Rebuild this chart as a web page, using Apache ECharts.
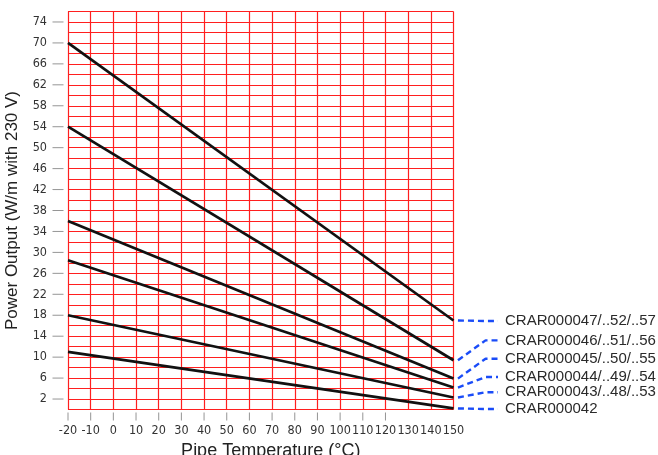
<!DOCTYPE html>
<html>
<head>
<meta charset="utf-8">
<script src="https://cdn.jsdelivr.net/npm/echarts@6/dist/echarts.min.js"></script>
<style>
  html, body { margin: 0; padding: 0; background: #fff; }
  #chart { width: 658px; height: 455px; }
</style>
</head>
<body>
<div id="chart"></div>
<script>
// pipe temperature range (°C) where each curve is read
const temps = [-20, 150];
// power output (W/m) at -20 °C and at 150 °C, top curve first
const powerAtStart = [70, 54, 36, 28.5, 18, 11];
const powerAtEnd = [17, 9.4, 5.9, 4.2, 2.3, 0.2];
const productNames = [
  "CRAR000047/..52/..57",
  "CRAR000046/..51/..56",
  "CRAR000045/..50/..55",
  "CRAR000044/..49/..54",
  "CRAR000043/..48/..53",
  "CRAR000042",
];
// level (W/m) the product label sits at on the right
const labelLevels = [16.9, 13.2, 9.7, 6.2, 3.3, 0.1];
// tick marks: y labelled every 4 from 2, x ticks only up to 120
const yTickValues = [2, 6, 10, 14, 18, 22, 26, 30, 34, 38, 42, 46, 50, 54, 58, 62, 66, 70, 74];
const xTickValues = [-20, -10, 0, 10, 20, 30, 40, 50, 60, 70, 80, 90, 100, 110, 120];

const narrow = "'Liberation Sans Narrow', 'Arial Narrow', 'DejaVu Sans Condensed', sans-serif";
const arial = "'Liberation Sans', Arial, sans-serif";

// plot box in px
const L = 68, R = 453.5, T = 11.5, B = 409.5;
const W = 658, H = 455;

var myChart = echarts.init(document.getElementById("chart"));

const curves = powerAtStart.map((v, i) => ({
  type: "line",
  data: [
    [temps[0], v],
    [temps[1], powerAtEnd[i]],
  ],
  symbol: "none",
  silent: true,
  lineStyle: { color: "#111", width: 2.7 },
  z: 5,
}));

// dashed blue pointers from curve end to product name (own small grid right of the plot)
const pointers = powerAtEnd.map((v, i) => ({
  type: "line",
  xAxisIndex: 1,
  yAxisIndex: 1,
  data: [
    [0.1, v],
    [0.72, labelLevels[i]],
    [1, labelLevels[i]],
  ],
  symbol: "none",
  silent: true,
  clip: false,
  lineStyle: { color: "#1a4cf8", width: 2.4, type: [6, 4] },
  endLabel: {
    show: true,
    formatter: productNames[i],
    distance: 7,
    fontFamily: arial,
    fontSize: 15,
    color: "#2a2a2a",
  },
}));

// tick marks drawn as thin rects, a few px away from the plot edge
const tickColor = "#7a7a7a";
const xTicks = {
  type: "scatter",
  data: xTickValues.map((x) => [x, 0]),
  symbol: "rect",
  symbolSize: [1, 8],
  symbolOffset: [0, 7],
  itemStyle: { color: tickColor },
  silent: true,
  clip: false,
};
const yTicks = {
  type: "scatter",
  data: yTickValues.map((y) => [-20, y]),
  symbol: "rect",
  symbolSize: [11, 1],
  symbolOffset: [-10, 0],
  itemStyle: { color: tickColor },
  silent: true,
  clip: false,
};

const hidden = {
  axisLine: { show: false },
  axisTick: { show: false },
  axisLabel: { show: false },
  splitLine: { show: false },
};

myChart.setOption({
  animation: false,
  backgroundColor: "#fff",
  grid: [
    { left: L, right: W - R, top: T, bottom: H - B, outerBoundsMode: "none" },
    // pointer area
    { left: R, right: W - 498, top: T, bottom: H - B, outerBoundsMode: "none" },
  ],
  xAxis: [
    {
      type: "value",
      min: -20,
      max: 150,
      interval: 10,
      name: "Pipe Temperature (°C)",
      nameLocation: "middle",
      nameGap: 27,
      nameTextStyle: {
        fontFamily: arial,
        fontSize: 18,
        color: "#222",
        verticalAlign: "top",
        padding: [0, 0, 0, 20],
      },
      axisLine: { show: false },
      axisTick: { show: false },
      axisLabel: { margin: 15, fontFamily: narrow, fontSize: 12.5, color: "#333" },
      splitLine: { show: true, lineStyle: { color: "#ff1f1f", width: 1.2 } },
    },
    Object.assign({ gridIndex: 1, type: "value", min: 0, max: 1 }, hidden),
  ],
  yAxis: [
    {
      type: "value",
      min: 0,
      max: 76,
      interval: 2,
      name: "Power Output (W/m with 230 V)",
      nameLocation: "middle",
      nameGap: 47,
      nameTextStyle: { fontFamily: arial, fontSize: 17, color: "#222" },
      axisLine: { show: false },
      axisTick: { show: false },
      axisLabel: {
        margin: 21,
        fontFamily: narrow,
        fontSize: 12.5,
        color: "#333",
        formatter: (v) => (yTickValues.indexOf(v) >= 0 ? String(v) : ""),
      },
      splitLine: { show: true, lineStyle: { color: "#ff1f1f", width: 1.2 } },
    },
    Object.assign({ gridIndex: 1, type: "value", min: 0, max: 76 }, hidden),
  ],
  series: curves.concat(pointers, [xTicks, yTicks]),
});
</script>
</body>
</html>
